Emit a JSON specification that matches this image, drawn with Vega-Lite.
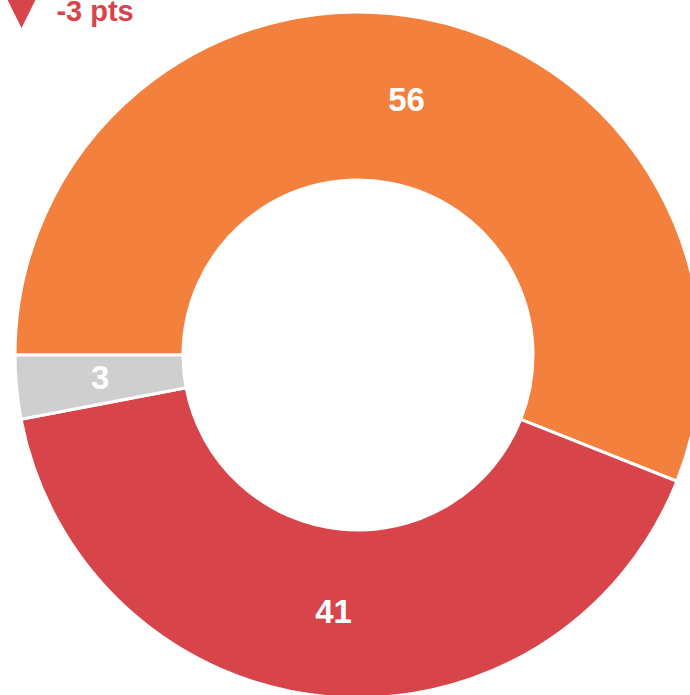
{
  "$schema": "https://vega.github.io/schema/vega-lite/v6.json",
  "width": 716,
  "height": 710,
  "padding": 0,
  "autosize": "none",
  "background": "white",
  "title": {
    "text": "▼",
    "subtitle": "\u200b\u00a0\u00a0\u00a0\u00a0\u00a0\u00a0\u00a0-3 pts",
    "anchor": "start",
    "frame": "group",
    "orient": "top",
    "offset": -33,
    "font": "DejaVu Sans",
    "fontSize": 56,
    "fontWeight": "bold",
    "color": "#d7444a",
    "subtitleFont": "Liberation Sans",
    "subtitleFontSize": 29,
    "subtitleFontWeight": "bold",
    "subtitleColor": "#d7444a",
    "subtitlePadding": -35
  },
  "data": {
    "values": [
      {"category": "A", "value": 56, "order": 1},
      {"category": "B", "value": 41, "order": 2},
      {"category": "C", "value": 3, "order": 3}
    ]
  },
  "encoding": {
    "theta": {"field": "value", "type": "quantitative", "stack": true, "scale": {"range": [4.712389, 10.995574]}},
    "order": {"field": "order", "type": "quantitative"}
  },
  "layer": [
    {
      "mark": {"type": "arc", "innerRadius": 175, "outerRadius": 343, "stroke": "white", "strokeWidth": 3},
      "encoding": {
        "color": {"field": "category", "type": "nominal", "legend": null,
          "scale": {"domain": ["A", "B", "C"], "range": ["#f3803c", "#d7444a", "#d0cfd0"]}}
      }
    },
    {
      "mark": {"type": "text", "radius": 259, "font": "Liberation Sans", "fontSize": 33, "fontWeight": "bold", "color": "white", "baseline": "middle", "align": "center"},
      "encoding": {
        "text": {"field": "value", "type": "quantitative"}
      }
    }
  ],
  "config": {"view": {"stroke": null}}
}
